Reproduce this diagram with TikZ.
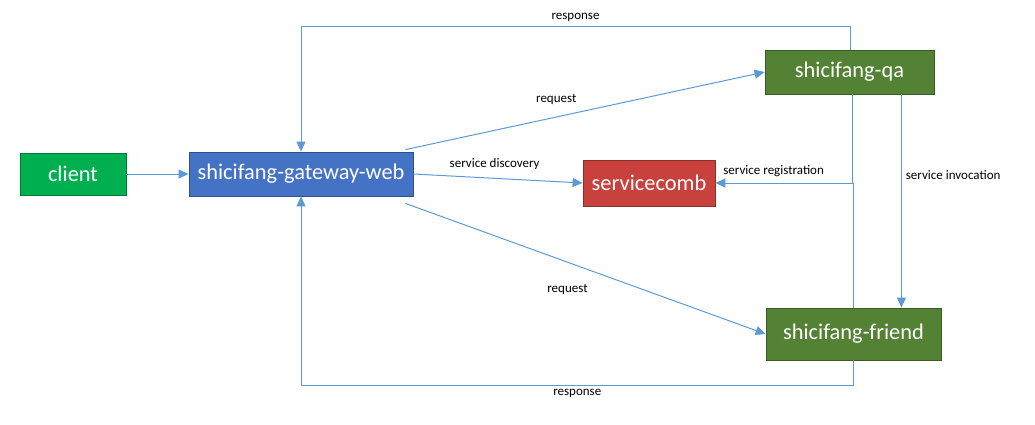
\documentclass[tikz,border=0pt]{standalone}
\usepackage{fontspec}
\setmainfont{Carlito}
\usetikzlibrary{arrows.meta,calc}
\definecolor{linkblue}{HTML}{5B9BD5}
\definecolor{clientgreen}{HTML}{00B050}
\definecolor{gwblue}{HTML}{4472C4}
\definecolor{regred}{HTML}{C8413C}
\definecolor{svcgreen}{HTML}{548235}
\tikzset{
  box/.style={draw=#1!70!black, fill=#1, line width=0.4pt, text=white,
    font=\fontsize{11.2}{13}\selectfont, inner sep=0pt},
  link/.style={draw=linkblue, line width=0.5pt, -{Triangle[length=5pt,width=4.5pt]}},
  lbl/.style={font=\fontsize{6.5}{8}\selectfont, text=black, inner sep=1pt}
}
\begin{document}
\begin{tikzpicture}[x=0.5pt,y=-0.5pt]
      \useasboundingbox (0,0) rectangle (1035,424);
      \draw
        (73,174) node[box=clientgreen, minimum width=53pt, minimum height=21pt] (client){client}
        (301,174) node[box=gwblue, minimum width=112pt, minimum height=22pt] (gateway){shicifang-gateway-web}
        (649,183) node[box=regred, minimum width=66pt, minimum height=23pt] (comb){servicecomb}
        (849.5,72) node[box=svcgreen, minimum width=84.5pt, minimum height=22pt] (qa){shicifang-qa}
        (853.5,334) node[box=svcgreen, minimum width=87.5pt, minimum height=26pt] (friend){shicifang-friend};
      \coordinate (regjoin) at (852,184);
      \begin{scope}[link]
        \draw (client) to (gateway);
        \draw ($(qa.north)+(0.5,0)$) |- (301,26) node[lbl, pos=0.75, above=1pt]{response} -- (gateway.north);
        \draw (friend.south) |- (301,385) node[lbl, pos=0.75, below=1pt]{response} -- (gateway.south);
        \draw ($(gateway.north east)+(-8,-2)$) to node[lbl, pos=0.42, above=5pt]{request} (qa.west);
        \draw ($(gateway.south east)+(-8,7)$) to node[lbl, pos=0.45, below=10pt]{request} (friend.west);
        \draw (gateway.east) to node[lbl, pos=0.48, above=3pt]{service discovery} (comb.west);
        \draw ($(friend.north)+(-0.5,0)$) |- node[lbl, pos=0.98, above=2pt, anchor=south west]{service registration} (comb.east);
        \draw ($(qa.south east)+(-33,0)$) to node[lbl, pos=0.38, right=1pt]{service invocation} ($(friend.north east)+(-40,0)$);
      \end{scope}
      \draw[draw=linkblue, line width=0.5pt] ($(qa.south)+(2.5,0)$) -- (regjoin);
    \end{tikzpicture}
\end{document}
